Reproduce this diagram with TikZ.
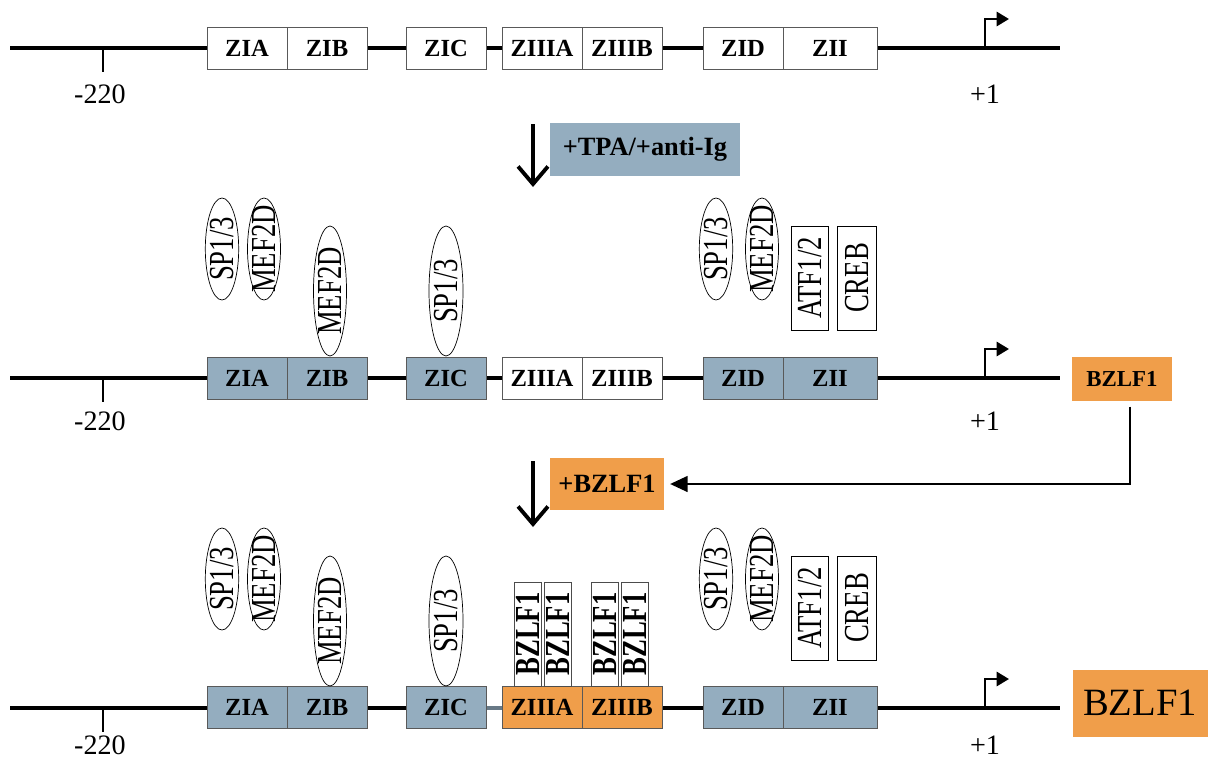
\documentclass[tikz,border=0pt]{standalone}
\usepackage{fontspec}
\usepackage{graphicx}
\setmainfont{Liberation Serif}
\usetikzlibrary{arrows.meta,shapes.geometric}
\definecolor{zblue}{HTML}{94ADBF}
\definecolor{zorange}{HTML}{F09E4A}
\newcommand{\zt}[1]{\makebox[0pt]{\scalebox{0.76}[1]{#1}}}
\tikzset{
  dna/.style={line width=1.8pt},
  tickline/.style={line width=1.1pt},
  tss/.style={line width=1.5pt,-{Triangle[length=7pt,width=8pt]}},
  coordlabel/.style={font=\fontsize{16}{16}\selectfont},
  site/.style={draw=black!65,line width=0.5pt,fill=white,minimum width=1.6cm,minimum height=0.84cm,inner sep=0pt,font=\fontsize{14}{14}\selectfont\bfseries},
  bound/.style={site,fill=zblue},
  hit/.style={site,fill=zorange},
  oval/.style={draw,ellipse,rotate=90,fill=white,inner sep=0pt,line width=0.4pt,minimum width=2.04cm,minimum height=0.64cm,font=\fontsize{20}{20}\selectfont},
  tall/.style={oval,minimum width=2.6cm,minimum height=0.62cm},
  tf/.style={draw,rectangle,rotate=90,fill=white,inner sep=0pt,line width=0.4pt,minimum width=2.08cm,minimum height=0.74cm,font=\fontsize{20}{20}\selectfont},
  zbox/.style={draw=black!70,rectangle,rotate=90,fill=white,inner sep=0pt,line width=0.5pt,minimum width=2.08cm,minimum height=0.54cm,font=\fontsize{20}{20}\selectfont\bfseries},
  step down/.style={line width=2pt,-{Straight Barb[length=10pt,width=17pt,line width=2.2pt]}}
}
\begin{document}
\begin{tikzpicture}[x=0.02cm,y=-0.02cm]
\useasboundingbox (0,0) rectangle (1217,758);

\foreach \r/\y/\d in {1/48/46,2/378/43,3/708/37}{
  \coordinate (L\r) at (10,\y);
  \coordinate (R\r) at (1060,\y);
  \coordinate (S\r) at (103,\y);
  \coordinate (T\r) at (103,\y+24);
  \coordinate (P\r) at (985,\y);
  \coordinate (Q\r) at (1009,\y-29);
  \draw[dna] (L\r) -- (R\r);
  \draw[tickline] (S\r) -- (T\r);
  \draw[tss] (P\r) |- (Q\r);
  \node[coordlabel] (m\r) at (100,\y+\d) {-220};
  \node[coordlabel] (p\r) at (985,\y+\d) {+1};
}

\node[site] (zia1) at (247,48) {ZIA};
\node[site] (zib1) at (327,48) {ZIB};
\node[site] (zic1) at (446,48) {ZIC};
\node[site] (z3a1) at (542,48) {ZIIIA};
\node[site] (z3b1) at (622,48) {ZIIIB};
\node[site] (zid1) at (743,48) {ZID};
\node[site,minimum width=1.88cm] (zii1) at (830,48) {ZII};

\coordinate (a1) at (533,124);
\coordinate (a2) at (533,187);
\draw[step down] (a1) -- (a2);
\node[fill=zblue,minimum width=3.8cm,minimum height=1.06cm,font=\fontsize{15}{15}\selectfont\bfseries] (tpa) at (645,149) {+TPA/+anti-Ig};

\node[bound] (zia2) at (247,378) {ZIA};
\node[bound] (zib2) at (327,378) {ZIB};
\node[bound] (zic2) at (446,378) {ZIC};
\node[site] (z3a2) at (542,378) {ZIIIA};
\node[site] (z3b2) at (622,378) {ZIIIB};
\node[bound] (zid2) at (743,378) {ZID};
\node[bound,minimum width=1.88cm] (zii2) at (830,378) {ZII};

\node[oval] (spa2) at (222,249) {\zt{SP1/3}};
\node[oval] (mea2) at (264,249) {\zt{MEF2D}};
\node[tall] (meb2) at (330,291) {\zt{MEF2D}};
\node[tall,minimum height=0.68cm] (spc2) at (446,291) {\zt{SP1/3}};
\node[oval] (spd2) at (716,249) {\zt{SP1/3}};
\node[oval] (med2) at (762,249) {\zt{MEF2D}};
\node[tf] (atf2) at (810,278) {\zt{ATF1/2}};
\node[tf,minimum height=0.78cm] (creb2) at (857,278) {\zt{CREB}};

\node[fill=zorange,minimum width=2cm,minimum height=0.88cm,inner sep=0pt,font=\fontsize{13}{13}\selectfont\bfseries] (bz2) at (1122,379) {BZLF1};

\coordinate (b1) at (533,461);
\coordinate (b2) at (533,527);
\draw[step down] (b1) -- (b2);
\node[fill=zorange,minimum width=2.3cm,minimum height=1.04cm,inner sep=0pt,font=\fontsize{15}{15}\selectfont\bfseries] (plus) at (607,484) {+BZLF1};
\draw[line width=1.2pt,-{Triangle[length=10pt,width=9pt]},shorten <=3pt,shorten >=3pt] (bz2.-70) |- (plus.east);

\draw[draw=zblue!70!black,line width=1.8pt] (zic2.east |- L3) -- (z3a2.west |- L3);
\node[bound] (zia3) at (247,707) {ZIA};
\node[bound] (zib3) at (327,707) {ZIB};
\node[bound] (zic3) at (446,707) {ZIC};
\node[hit] (z3a3) at (542,707) {ZIIIA};
\node[hit] (z3b3) at (622,707) {ZIIIB};
\node[bound] (zid3) at (743,707) {ZID};
\node[bound,minimum width=1.88cm] (zii3) at (830,707) {ZII};

\node[oval] (spa3) at (222,579) {\zt{SP1/3}};
\node[oval] (mea3) at (264,579) {\zt{MEF2D}};
\node[tall] (meb3) at (330,621) {\zt{MEF2D}};
\node[tall,minimum height=0.68cm] (spc3) at (446,621) {\zt{SP1/3}};
\node[oval] (spd3) at (716,579) {\zt{SP1/3}};
\node[oval] (med3) at (762,579) {\zt{MEF2D}};
\node[tf] (atf3) at (810,608) {\zt{ATF1/2}};
\node[tf,minimum height=0.78cm] (creb3) at (857,608) {\zt{CREB}};

\node[zbox] (za1) at (528,634) {\zt{BZLF1}};
\node[zbox] (za2) at (558,634) {\zt{BZLF1}};
\node[zbox] (zb1) at (605,634) {\zt{BZLF1}};
\node[zbox] (zb2) at (635,634) {\zt{BZLF1}};

\node[fill=zorange,minimum width=2.7cm,minimum height=1.34cm,inner sep=0pt,font=\fontsize{22}{22}\selectfont] (bz3) at (1140,703) {BZLF1};
\end{tikzpicture}
\end{document}
